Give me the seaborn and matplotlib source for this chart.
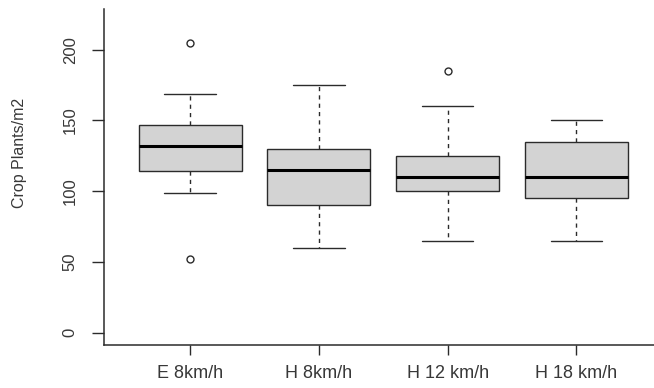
import matplotlib
matplotlib.use("Agg")
import matplotlib.pyplot as plt
import seaborn as sns
import pandas as pd

# Treatments and the five-number summaries of crop plant density (plants per m2)
treatments = ["E 8km/h", "H 8km/h", "H 12 km/h", "H 18 km/h"]
whisker_low = [99, 60, 65, 65]
quartile_1 = [114, 90, 100, 95]
median = [132, 115, 110, 110]
quartile_3 = [147, 130, 125, 135]
whisker_high = [169, 175, 160, 150]
outliers_low = [[52], [], [], []]
outliers_high = [[205], [], [185], []]

y_ticks = [0, 50, 100, 150, 200]


def build_sample(lo, q1, med, q3, hi, out_lo, out_hi):
    """17 observations whose 25/50/75 percentiles and whisker ends are the given values."""
    head = sorted(out_lo) + [lo]
    tail = [hi] + sorted(out_hi)
    return head + [q1] * (7 - len(head)) + [med] * 4 + [q3] * (6 - len(tail)) + tail


rows = []
for i, name in enumerate(treatments):
    for v in build_sample(whisker_low[i], quartile_1[i], median[i], quartile_3[i],
                          whisker_high[i], outliers_low[i], outliers_high[i]):
        rows.append({"treatment": name, "plants": v})
df = pd.DataFrame(rows)

sns.set_style("ticks")
plt.rcParams["font.family"] = ["Liberation Sans", "DejaVu Sans"]

text_col = "#383838"
line_col = "#2b2b2b"

fig = plt.figure(figsize=(6.54, 3.88), dpi=100)
ax = fig.add_axes([103.5 / 654, 43 / 388, (654 - 103.5) / 654, 336 / 388])

sns.boxplot(
    data=df, x="treatment", y="plants", order=treatments, ax=ax,
    color="#d3d3d3", saturation=1, width=0.8, whis=1.5,
    linecolor=line_col, linewidth=1.0,
    medianprops=dict(color="black", linewidth=2.2),
    whiskerprops=dict(color=line_col, linewidth=1.0, linestyle=(0, (3, 3))),
    capprops=dict(color=line_col, linewidth=1.0),
    flierprops=dict(marker="o", markersize=5.0, markerfacecolor="none",
                    markeredgecolor=line_col, markeredgewidth=1.0),
)

ax.set_xlim(-0.672, 3.6025)
ax.set_ylim(-8.8, 228.8)
ax.set_yticks(y_ticks)
ax.set_yticklabels([str(t) for t in y_ticks], rotation=90, va="center")

ax.set_xlabel("")
ax.set_ylabel("Crop Plants/m2", fontsize=11.5, color=text_col, va="center")
ax.yaxis.set_label_coords((20 - 103.5) / 550.5, 0.571)

for side in ["top", "right"]:
    ax.spines[side].set_visible(False)
for side in ["left", "bottom"]:
    ax.spines[side].set_color(line_col)
    ax.spines[side].set_linewidth(1.1)

ax.tick_params(axis="y", length=8.5, width=1.0, color=line_col, pad=10,
               labelsize=12, labelcolor=text_col)
ax.tick_params(axis="x", length=7.2, width=1.0, color=line_col, pad=7.5,
               labelsize=13, labelcolor=text_col)

fig.savefig("out.png", dpi=100)
